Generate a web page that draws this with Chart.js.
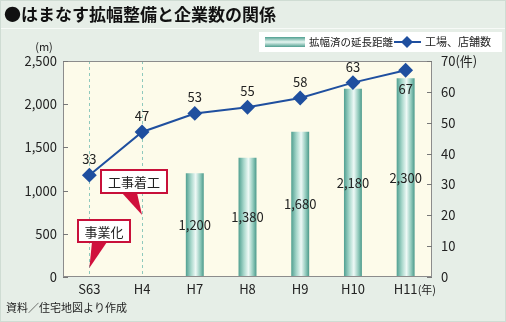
<!DOCTYPE html>
<html>
<head>
<meta charset="utf-8">
<script src="https://cdn.jsdelivr.net/npm/chart.js@4"></script>
<style>
  html, body { margin: 0; padding: 0; background: #e6eee7; }
  #wrap { width: 506px; height: 322px; position: relative; }
</style>
</head>
<body>
<div id="wrap"><canvas id="c" width="506" height="322"></canvas></div>
<script>
const FONT = "'Noto Sans CJK JP', 'Noto Sans', sans-serif";

// data
const years = ["S63", "H4", "H7", "H8", "H9", "H10", "H11"];
const roadLength = [null, null, 1200, 1380, 1680, 2180, 2300];   // m
const shopCount = [33, 47, 53, 55, 58, 63, 67];                    // 件
const lengthTicks = [0, 500, 1000, 1500, 2000, 2500];
const countTicks = [0, 10, 20, 30, 40, 50, 60, 70];
const milestones = [
  { year: "S63", text: "事業化" },
  { year: "H4", text: "工事着工" }
];

const LINE_COLOR = "#1f4f9f";

function barGradient(ctx, x, w) {
  const g = ctx.createLinearGradient(x - w / 2, 0, x + w / 2, 0);
  g.addColorStop(0, "#4f9f90");
  g.addColorStop(0.3, "#a9d8cc");
  g.addColorStop(0.55, "#eef9f6");
  g.addColorStop(0.8, "#93cbbd");
  g.addColorStop(1, "#4a998a");
  return g;
}

const decor = {
  id: "decor",
  beforeDraw(chart) {
    const { ctx, chartArea: a } = chart;
    ctx.save();
    ctx.fillStyle = "#e6eee7";
    ctx.fillRect(0, 0, chart.width, chart.height);
    ctx.fillStyle = "#fdfbea";
    ctx.fillRect(a.left, a.top, a.right - a.left, a.bottom - a.top);
    // title separator
    ctx.strokeStyle = "#f7faf7";
    ctx.lineWidth = 1;
    ctx.beginPath();
    ctx.moveTo(0, 28.5); ctx.lineTo(chart.width, 28.5);
    ctx.stroke();
    // milestone dashed lines
    ctx.strokeStyle = "#8fc9bd";
    ctx.setLineDash([3, 3]);
    milestones.forEach(m => {
      const x = Math.round(chart.scales.x.getPixelForValue(years.indexOf(m.year))) + 0.5;
      ctx.beginPath();
      ctx.moveTo(x, a.top); ctx.lineTo(x, a.bottom);
      ctx.stroke();
    });
    ctx.restore();
  },
  afterDraw(chart) {
    const { ctx, chartArea: a, scales } = chart;
    ctx.save();
    // plot frame
    ctx.strokeStyle = "#8c8c8c";
    ctx.lineWidth = 1;
    ctx.strokeRect(a.left + 0.5, a.top + 0.5, a.right - a.left - 1, a.bottom - a.top - 1);
    // inward ticks
    ctx.strokeStyle = "#777";
    lengthTicks.forEach(v => {
      const y = Math.round(scales.y.getPixelForValue(v)) + 0.5;
      ctx.beginPath(); ctx.moveTo(a.left, y); ctx.lineTo(a.left + 5, y); ctx.stroke();
    });
    countTicks.forEach(v => {
      const y = Math.round(scales.y1.getPixelForValue(v)) + 0.5;
      ctx.beginPath(); ctx.moveTo(a.right - 5, y); ctx.lineTo(a.right, y); ctx.stroke();
    });

    ctx.fillStyle = "#222";
    ctx.textBaseline = "middle";
    // bar values
    ctx.font = "13px " + FONT;
    ctx.textAlign = "center";
    chart.getDatasetMeta(0).data.forEach((el, i) => {
      if (roadLength[i] == null) return;
      ctx.fillText(roadLength[i].toLocaleString("en-US"), el.x, (el.y + el.base) / 2);
    });
    // line values
    chart.getDatasetMeta(1).data.forEach((el, i) => {
      const below = i === shopCount.length - 1;
      ctx.fillText(String(shopCount[i]), el.x, below ? el.y + 19 : el.y - 16);
    });

    // unit labels
    ctx.font = "11px " + FONT;
    ctx.fillText("(m)", 44, 47);
    const lastX = scales.x.getPixelForValue(years.length - 1);
    ctx.textAlign = "left";
    ctx.fillText("(年)", lastX + 12, 290);

    // callouts
    const boxes = [
      { x: 78, y: 220, w: 52, h: 22, tri: [[92, 242], [107, 242]], year: "S63", tipY: 268 },
      { x: 101, y: 170, w: 66, h: 23, tri: [[122, 193], [137, 193]], year: "H4", tipY: 215 }
    ];
    boxes.forEach((b, k) => {
      const tipX = scales.x.getPixelForValue(years.indexOf(b.year));
      ctx.fillStyle = "#d0103c";
      ctx.beginPath();
      ctx.moveTo(b.tri[0][0], b.tri[0][1]);
      ctx.lineTo(b.tri[1][0], b.tri[1][1]);
      ctx.lineTo(tipX, b.tipY);
      ctx.closePath();
      ctx.fill();
      ctx.fillStyle = "#ffffff";
      ctx.fillRect(b.x, b.y, b.w, b.h);
      ctx.strokeStyle = "#c8103a";
      ctx.lineWidth = 2;
      ctx.strokeRect(b.x, b.y, b.w, b.h);
      ctx.fillStyle = "#222";
      ctx.font = "13px " + FONT;
      ctx.textAlign = "center";
      ctx.fillText(milestones[k].text, b.x + b.w / 2, b.y + b.h / 2 + 1);
    });

    // title
    ctx.textAlign = "left";
    ctx.fillStyle = "#111";
    ctx.font = "bold 17px " + FONT;
    ctx.fillText("●はまなす拡幅整備と企業数の関係", 4, 15);

    // legend
    ctx.fillStyle = "#ffffff";
    ctx.fillRect(259, 32, 243, 20);
    const lg = ctx.createLinearGradient(0, 37, 0, 47);
    lg.addColorStop(0, "#4f9f90");
    lg.addColorStop(0.5, "#e6f6f1");
    lg.addColorStop(1, "#4f9f90");
    ctx.fillStyle = lg;
    ctx.fillRect(265, 37, 40, 10);
    ctx.fillStyle = "#222";
    ctx.font = "10.5px " + FONT;
    ctx.fillText("拡幅済の延長距離", 309, 42);
    ctx.strokeStyle = LINE_COLOR;
    ctx.lineWidth = 2;
    ctx.beginPath(); ctx.moveTo(394, 42); ctx.lineTo(421, 42); ctx.stroke();
    ctx.fillStyle = LINE_COLOR;
    ctx.beginPath();
    ctx.moveTo(407, 36); ctx.lineTo(413, 42); ctx.lineTo(407, 48); ctx.lineTo(401, 42);
    ctx.closePath(); ctx.fill();
    ctx.fillStyle = "#222";
    ctx.font = "11px " + FONT;
    ctx.fillText("工場、店舗数", 425, 42);

    // source
    ctx.font = "11px " + FONT;
    ctx.fillText("資料／住宅地図より作成", 6, 308);

    // outer frame
    ctx.strokeStyle = "#cfdcd3";
    ctx.lineWidth = 1;
    ctx.strokeRect(0.5, 0.5, chart.width - 1, chart.height - 1);
    ctx.restore();
  }
};

new Chart(document.getElementById("c"), {
  data: {
    labels: years,
    datasets: [
      {
        type: "bar",
        label: "拡幅済の延長距離",
        data: roadLength,
        yAxisID: "y",
        order: 2,
        barPercentage: 0.34,
        categoryPercentage: 1,
        backgroundColor(c) {
          const xs = c.chart.scales.x;
          const px = xs && c.dataIndex != null ? xs.getPixelForValue(c.dataIndex) : NaN;
          if (!Number.isFinite(px)) return "#7fc0b2";
          return barGradient(c.chart.ctx, px, 18);
        }
      },
      {
        type: "line",
        label: "工場、店舗数",
        data: shopCount,
        yAxisID: "y1",
        order: 1,
        borderColor: LINE_COLOR,
        borderWidth: 2,
        backgroundColor: LINE_COLOR,
        pointStyle: "rectRot",
        pointRadius: 6,
        pointHoverRadius: 6,
        tension: 0
      }
    ]
  },
  options: {
    responsive: false,
    animation: false,
    layout: { padding: { top: 61, left: 0, right: 0, bottom: 0 } },
    plugins: { legend: { display: false }, tooltip: { enabled: false } },
    scales: {
      x: {
        type: "category",
        offset: true,
        grid: { display: false, drawTicks: false },
        border: { display: false },
        ticks: { color: "#222", font: { size: 13, family: FONT }, padding: 4, maxRotation: 0 },
        afterFit(s) { s.height = 45; }
      },
      y: {
        position: "left",
        min: 0, max: 2500,
        grid: { display: false, drawTicks: false },
        border: { display: false },
        ticks: {
          stepSize: 500, padding: 6, color: "#222",
          font: { size: 13, family: FONT },
          callback: v => v.toLocaleString("en-US")
        },
        afterFit(s) { s.width = 63; }
      },
      y1: {
        position: "right",
        min: 0, max: 70,
        grid: { display: false, drawTicks: false },
        border: { display: false },
        ticks: {
          stepSize: 10, padding: 9, color: "#222",
          font: { size: 13, family: FONT },
          callback: v => v === 70 ? "70(件)" : v
        },
        afterFit(s) { s.width = 74; }
      }
    }
  },
  plugins: [decor]
});
</script>
</body>
</html>
